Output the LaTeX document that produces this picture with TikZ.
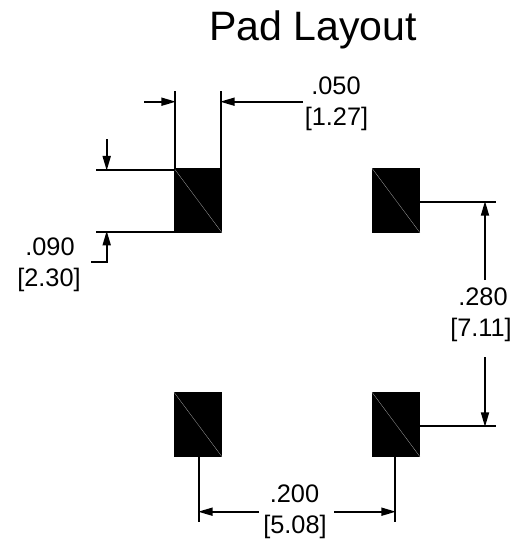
\documentclass[tikz,border=0pt]{standalone}
\usepackage{fontspec}
\setmainfont{Liberation Sans}
\usetikzlibrary{arrows.meta}
\tikzset{
  padbox/.style={fill=black,draw=none,minimum width=36pt,minimum height=48.4pt,inner sep=0pt,outer sep=0pt},
  dimline/.style={line width=1.4pt,black},
  dimarrow/.style={dimline,-{Triangle[length=11pt,width=6pt,sep=-0.7pt]}},
  diag/.style={line width=0.2pt,gray!60},
  dimtext/.style={font=\fontsize{19pt}{22pt}\selectfont,inner sep=0pt,anchor=base},
  titletext/.style={font=\fontsize{30.8pt}{36pt}\selectfont,inner sep=0pt,anchor=base}
}
\begin{document}
\begin{tikzpicture}[x=0.75pt,y=-0.75pt]
\useasboundingbox (0,0) rectangle (521,543);
\fill[white] (0,0) rectangle (521,543);
% pads
\node[padbox] (p1) at (198,200.5) {};
\node[padbox] (p2) at (396,200.5) {};
\node[padbox] (p3) at (198,424.5) {};
\node[padbox] (p4) at (396,424.5) {};
\foreach \p in {p1,p2,p3,p4} \draw[diag] (\p.north west) -- (\p.south east);
% texts
\node[titletext] (title) at (313,40) {Pad Layout};
\node[dimtext] (t050) at (336,94.5) {.050};
\node[dimtext] (t127) at (336.5,125.5) {[1.27]};
\node[dimtext] (t090) at (50,255) {.090};
\node[dimtext] (t230) at (49,286) {[2.30]};
\node[dimtext] (t280) at (483,305.5) {.280};
\node[dimtext] (t711) at (481,336.5) {[7.11]};
\node[dimtext] (t200) at (294.5,502) {.200};
\node[dimtext] (t508) at (295,533) {[5.08]};
% .050 dimension
\coordinate (a1) at (175,91);
\coordinate (a2) at (175,169);
\coordinate (b1) at (221,91);
\coordinate (b2) at (221,169);
\coordinate (a3) at (175,101.7);
\coordinate (b3) at (221,101.7);
\coordinate (a4) at (144,101.7);
\coordinate (b4) at (303,101.7);
\draw[dimline] (a1) -- (a2);
\draw[dimline] (b1) -- (b2);
\draw[dimarrow] (a4) -- (a3);
\draw[dimarrow] (b4) -- (b3);
% .090 dimension
\coordinate (c1) at (96,169.7);
\coordinate (c2) at (175,169.7);
\coordinate (d1) at (96,231.7);
\coordinate (d2) at (175,231.7);
\coordinate (c3) at (106.7,139);
\coordinate (c4) at (106.7,169.7);
\coordinate (d0) at (91,262);
\coordinate (d3) at (106.7,262);
\coordinate (d4) at (106.7,231.7);
\draw[dimline] (c1) -- (c2);
\draw[dimline] (d1) -- (d2);
\draw[dimarrow] (c3) -- (c4);
\draw[dimarrow] (d0) -- (d3) -- (d4);
% .280 dimension
\coordinate (e1) at (420,202);
\coordinate (e2) at (496,202);
\coordinate (f1) at (420,426);
\coordinate (f2) at (496,426);
\coordinate (e3) at (485,280);
\coordinate (e4) at (485,202);
\coordinate (f3) at (485,357);
\coordinate (f4) at (485,426);
\draw[dimline] (e1) -- (e2);
\draw[dimline] (f1) -- (f2);
\draw[dimarrow] (e3) -- (e4);
\draw[dimarrow] (f3) -- (f4);
% .200 dimension
\coordinate (g1) at (199,456);
\coordinate (g2) at (199,522);
\coordinate (h1) at (395,456);
\coordinate (h2) at (395,522);
\coordinate (g3) at (259,511.7);
\coordinate (g4) at (199,511.7);
\coordinate (h3) at (334,511.7);
\coordinate (h4) at (395,511.7);
\draw[dimline] (g1) -- (g2);
\draw[dimline] (h1) -- (h2);
\draw[dimarrow] (g3) -- (g4);
\draw[dimarrow] (h3) -- (h4);
\end{tikzpicture}
\end{document}
